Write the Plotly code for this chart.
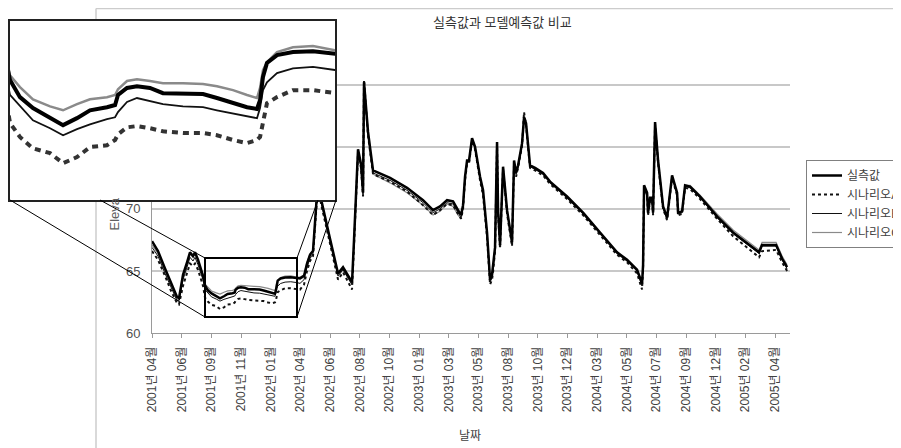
import plotly.graph_objects as go

FONT = "Liberation Sans, Arial, Noto Sans CJK KR, sans-serif"

# category positions (tick label i sits at position i)
pos = [
    0.000, 0.202, 0.438, 0.640, 0.843, 0.910, 1.045, 1.180, 1.281, 1.382, 1.449, 1.550, 1.719,
    1.786, 1.881, 2.005, 2.168, 2.292, 2.425, 2.549, 2.711, 2.788, 2.816, 2.902, 2.997, 3.121,
    3.245, 3.436, 3.627, 3.760, 3.913, 4.047, 4.142, 4.171, 4.199, 4.237, 4.333, 4.485, 4.676, 4.886,
    4.988, 5.123, 5.224, 5.325, 5.426, 5.595, 5.696, 5.999, 6.269, 6.437, 6.606, 6.741, 6.808,
    6.943, 7.044, 7.112, 7.145, 7.213, 7.280, 7.449, 8.022, 8.594, 9.134, 9.471, 9.707, 9.943,
    10.145, 10.313, 10.415, 10.482, 10.549, 10.617, 10.684, 10.785, 10.886, 11.055, 11.156, 11.291,
    11.392, 11.459, 11.493, 11.560, 11.628, 11.662, 11.729, 11.830, 11.965, 12.133, 12.201, 12.268,
    12.336, 12.471, 12.538, 12.605, 12.740, 12.909, 13.178, 13.414, 13.987, 14.526, 15.099, 15.672,
    16.009, 16.346, 16.515, 16.549, 16.582, 16.684, 16.717, 16.785, 16.852, 16.886, 16.953, 17.054,
    17.223, 17.358, 17.526, 17.695, 17.729, 17.863, 17.965, 18.133, 18.470, 19.043, 19.582, 20.121,
    20.458, 20.559, 21.031, 21.233, 21.402,
]

actual = [
    67.4, 66.6, 65.2, 64.1, 62.9, 62.8, 64.7, 65.7, 66.5, 66.2, 66.5, 65.9, 64.6,
    63.83, 63.44, 63.19, 62.98, 62.80, 62.96, 63.14, 63.21, 63.26, 63.49, 63.65, 63.69, 63.65,
    63.53, 63.51, 63.51, 63.42, 63.30, 63.21, 63.17, 63.37, 63.90, 64.22, 64.40, 64.47, 64.49, 64.42,
    64.4, 64.6, 65.6, 66.3, 66.6, 72.4, 70.8, 67.6, 64.8, 65.3, 64.6, 64.1, 67.5,
    74.8, 73.6, 71.3, 80.2, 78.2, 76.2, 73.1, 72.5, 71.7, 70.7, 69.9, 70.2, 70.7,
    70.6, 69.9, 69.5, 70.3, 72.6, 73.9, 73.9, 75.7, 75.0, 72.6, 71.5, 68.1,
    64.3, 64.7, 65.3, 66.9, 75.4, 69.9, 67.1, 73.4, 69.9, 67.3, 73.9, 72.9,
    73.5, 75.3, 77.4, 76.9, 73.5, 73.3, 72.9, 72.2, 71.0, 69.7, 68.1, 66.5,
    65.9, 65.1, 64.0, 65.5, 71.9, 71.3, 69.7, 70.9, 70.9, 69.7, 77.0, 73.9,
    70.2, 69.3, 72.7, 71.3, 69.7, 69.8, 71.9, 71.8, 71.0, 69.4, 68.1, 67.1,
    66.5, 67.1, 67.1, 66.0, 65.3,
]

scen_a = [
    66.6, 65.9, 64.6, 63.4, 62.4, 62.3, 63.8, 64.8, 65.6, 65.4, 65.6, 65.1, 63.8,
    62.85, 62.53, 62.27, 62.16, 61.93, 62.07, 62.30, 62.34, 62.46, 62.59, 62.75, 62.78, 62.73,
    62.66, 62.62, 62.62, 62.57, 62.46, 62.39, 62.46, 62.53, 62.91, 63.30, 63.44, 63.60, 63.60, 63.55,
    63.5, 63.9, 65.0, 65.8, 66.2, 72.0, 70.4, 67.2, 64.3, 64.9, 64.1, 63.5, 67.0,
    74.5, 73.3, 71.0, 80.4, 78.0, 75.9, 72.8, 72.2, 71.4, 70.3, 69.5, 69.9, 70.4,
    70.3, 69.6, 69.2, 70.0, 72.3, 73.6, 73.7, 75.5, 74.8, 72.3, 71.1, 67.7,
    63.9, 64.3, 64.9, 66.6, 75.2, 69.6, 66.8, 73.2, 69.6, 67.0, 73.7, 72.6,
    73.3, 75.1, 77.8, 76.7, 73.3, 73.1, 72.7, 72.0, 70.8, 69.5, 67.9, 66.3,
    65.7, 64.8, 63.5, 65.2, 71.7, 71.1, 69.5, 70.7, 70.7, 69.5, 76.8, 73.7,
    70.0, 69.1, 72.5, 71.1, 69.5, 69.6, 71.7, 71.6, 70.8, 69.2, 67.8, 66.8,
    66.1, 66.6, 66.7, 65.7, 65.0,
]

scen_b = [
    66.9, 66.2, 64.8, 63.7, 62.6, 62.6, 64.3, 65.3, 66.1, 65.8, 66.1, 65.5, 64.3,
    63.49, 63.23, 62.91, 62.73, 62.57, 62.71, 62.82, 62.94, 62.98, 63.10, 63.33, 63.42, 63.35,
    63.28, 63.23, 63.21, 63.14, 63.07, 63.01, 62.96, 63.19, 63.60, 63.78, 63.99, 64.10, 64.13, 64.06,
    64.0, 64.3, 65.3, 66.0, 66.4, 72.2, 70.6, 67.4, 64.6, 65.1, 64.4, 63.9, 67.3,
    74.6, 73.4, 71.1, 80.0, 78.0, 76.0, 72.9, 72.3, 71.5, 70.5, 69.7, 70.0, 70.5,
    70.4, 69.7, 69.3, 70.1, 72.5, 73.8, 73.8, 75.6, 74.9, 72.4, 71.3, 67.9,
    64.1, 64.5, 65.1, 66.8, 75.3, 69.8, 67.0, 73.3, 69.8, 67.2, 73.8, 72.8,
    73.4, 75.2, 77.3, 76.8, 73.4, 73.2, 72.8, 72.1, 70.9, 69.6, 68.0, 66.4,
    65.8, 65.0, 63.8, 65.4, 71.8, 71.2, 69.6, 70.8, 70.8, 69.6, 76.9, 73.8,
    70.1, 69.2, 72.6, 71.2, 69.6, 69.7, 71.8, 71.7, 70.9, 69.3, 68.0, 67.0,
    66.4, 67.0, 67.0, 65.9, 65.2,
]

scen_c = [
    67.1, 66.4, 65.0, 63.9, 62.7, 62.7, 64.6, 65.6, 66.4, 66.1, 66.4, 65.8, 64.7,
    63.94, 63.67, 63.39, 63.23, 63.14, 63.28, 63.39, 63.44, 63.49, 63.62, 63.81, 63.85, 63.81,
    63.76, 63.76, 63.74, 63.69, 63.60, 63.49, 63.42, 63.65, 64.06, 64.24, 64.47, 64.58, 64.61, 64.51,
    64.5, 64.7, 65.7, 66.4, 66.7, 72.3, 70.6, 67.3, 64.6, 65.1, 64.4, 63.9, 67.3,
    74.6, 73.4, 71.1, 79.9, 77.9, 75.9, 72.8, 72.1, 71.3, 70.3, 69.5, 69.8, 70.4,
    70.2, 69.5, 69.2, 70.0, 72.4, 73.7, 73.8, 75.6, 74.9, 72.4, 71.3, 67.9,
    64.1, 64.5, 65.1, 66.8, 75.3, 69.8, 67.0, 73.3, 69.8, 67.2, 73.8, 72.8,
    73.4, 75.2, 77.2, 76.8, 73.4, 73.2, 72.8, 72.1, 70.9, 69.6, 68.0, 66.4,
    65.8, 65.0, 63.8, 65.4, 71.8, 71.2, 69.6, 70.8, 70.8, 69.6, 76.9, 73.8,
    70.1, 69.2, 72.6, 71.2, 69.6, 69.7, 71.9, 71.9, 71.1, 69.6, 68.3, 67.3,
    66.7, 67.3, 67.3, 66.2, 65.5,
]

tick_labels = [
    "2001년 04월", "2001년 06월", "2001년 09월", "2001년 11월", "2002년 01월", "2002년 04월",
    "2002년 06월", "2002년 08월", "2002년 10월", "2003년 01월", "2003년 03월", "2003년 05월",
    "2003년 08월", "2003년 10월", "2003년 12월", "2004년 03월", "2004년 05월", "2004년 07월",
    "2004년 09월", "2004년 12월", "2005년 02월", "2005년 04월",
]

series_names = ["실측값", "시나리오A", "시나리오B", "시나리오C"]

# the page body adds an 8px margin, so the figure is laid out 8px up/left
OFF = 8
W, H = 901 - OFF, 448 - OFF
def PX(x):
    return (x - OFF) / W
def PY(y):
    return 1 - (y - OFF) / H

fig = go.Figure()

# main chart (drawn C, B, A, actual so the measured line is on top)
fig.add_trace(go.Scatter(x=pos, y=scen_c, mode="lines", name=series_names[3], legendrank=4,
                         line=dict(color="#8a8a8a", width=1.2)))
fig.add_trace(go.Scatter(x=pos, y=scen_b, mode="lines", name=series_names[2], legendrank=3,
                         line=dict(color="#111111", width=1)))
fig.add_trace(go.Scatter(x=pos, y=scen_a, mode="lines", name=series_names[1], legendrank=2,
                         line=dict(color="#111111", width=2, dash="3px,3px")))
fig.add_trace(go.Scatter(x=pos, y=actual, mode="lines", name=series_names[0], legendrank=1,
                         line=dict(color="#000000", width=2.5)))

# inset (zoomed view of the boxed region)
fig.add_trace(go.Scatter(x=pos, y=scen_c, mode="lines", xaxis="x2", yaxis="y2", showlegend=False,
                         line=dict(color="#8a8a8a", width=2.5)))
fig.add_trace(go.Scatter(x=pos, y=scen_b, mode="lines", xaxis="x2", yaxis="y2", showlegend=False,
                         line=dict(color="#111111", width=1.8)))
fig.add_trace(go.Scatter(x=pos, y=scen_a, mode="lines", xaxis="x2", yaxis="y2", showlegend=False,
                         line=dict(color="#333333", width=4, dash="6px,5px")))
fig.add_trace(go.Scatter(x=pos, y=actual, mode="lines", xaxis="x2", yaxis="y2", showlegend=False,
                         line=dict(color="#000000", width=4)))

shapes = [
    # chart-area border
    dict(type="line", xref="paper", yref="paper", x0=PX(96), y0=PY(8.5), x1=PX(910), y1=PY(8.5),
         line=dict(color="#cccccc", width=1.5), layer="below"),
    dict(type="line", xref="paper", yref="paper", x0=PX(96), y0=PY(8.5), x1=PX(96), y1=PY(452),
         line=dict(color="#cccccc", width=1.5), layer="below"),
    # zoom box in main chart
    dict(type="rect", xref="paper", yref="paper", x0=PX(205), y0=PY(317), x1=PX(297), y1=PY(258),
         line=dict(color="#000000", width=2), layer="above"),
    # connector lines
    dict(type="line", xref="paper", yref="paper", x0=PX(10), y0=PY(200), x1=PX(205), y1=PY(317),
         line=dict(color="#000000", width=1), layer="above"),
    dict(type="line", xref="paper", yref="paper", x0=PX(100), y0=PY(200), x1=PX(205), y1=PY(258),
         line=dict(color="#000000", width=1), layer="above"),
    dict(type="line", xref="paper", yref="paper", x0=PX(297), y0=PY(258), x1=PX(318), y1=PY(200),
         line=dict(color="#000000", width=1), layer="above"),
    dict(type="line", xref="paper", yref="paper", x0=PX(297), y0=PY(317), x1=PX(336), y1=PY(200),
         line=dict(color="#000000", width=1), layer="above"),
]

annotations = [
    dict(text="실측값과 모델예측값 비교", xref="paper", yref="paper", x=PX(503), y=PY(22),
         xanchor="center", yanchor="middle", showarrow=False, font=dict(size=13, color="#333333")),
    dict(text="날짜", xref="paper", yref="paper", x=PX(470), y=PY(436),
         xanchor="center", yanchor="middle", showarrow=False, font=dict(size=12, color="#404040")),
    dict(text="Eleva", xref="paper", yref="paper", x=PX(114), y=PY(233), textangle=-90,
         xanchor="center", yanchor="bottom", showarrow=False, font=dict(size=13, color="#606060")),
]

fig.update_layout(
    width=W, height=H,
    margin=dict(l=0, r=0, t=0, b=0, autoexpand=False),
    paper_bgcolor="white", plot_bgcolor="white",
    font=dict(family=FONT, size=12, color="#404040"),
    xaxis=dict(domain=[PX(152), PX(790)], range=[0, 21.5], tickmode="array",
               tickvals=list(range(len(tick_labels))), ticktext=tick_labels, tickangle=-90,
               showgrid=False, zeroline=False, showline=True, linecolor="#9a9a9a", linewidth=1,
               ticks="outside", ticklen=4, tickcolor="#9a9a9a", tickfont=dict(size=12, color="#404040"),
               ticklabelstandoff=4),
    yaxis=dict(domain=[PY(333), PY(60)], range=[60, 82], tickmode="array",
               tickvals=[60, 65, 70, 75, 80], showgrid=True, gridcolor="#c8c8c8", gridwidth=1.5,
               zeroline=False, showline=True, linecolor="#9a9a9a", linewidth=1,
               tickfont=dict(size=13, color="#505050"), ticklabelstandoff=8),
    xaxis2=dict(domain=[PX(10), PX(335)], range=[1.786, 4.886], anchor="y2",
                showgrid=False, zeroline=False, showticklabels=False, ticks="",
                showline=True, mirror=True, linecolor="#222222", linewidth=1.5),
    yaxis2=dict(domain=[PY(200), PY(21)], range=[61.09, 65.18], anchor="x2",
                showgrid=False, zeroline=False, showticklabels=False, ticks="",
                showline=True, mirror=True, linecolor="#222222", linewidth=1.5),
    legend=dict(x=PX(806), y=PY(160), xanchor="left", yanchor="top",
                bordercolor="#808080", borderwidth=1, bgcolor="white",
                font=dict(size=12, color="#404040"), tracegroupgap=0),
    shapes=shapes,
    annotations=annotations,
    showlegend=True,
)

fig.write_html("out.html")
